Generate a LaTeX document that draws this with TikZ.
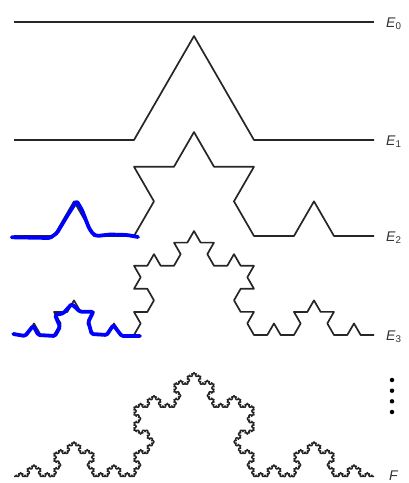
\documentclass[tikz,border=0pt]{standalone}
\usepackage{fontspec}
\setmainfont{Liberation Sans}
\usetikzlibrary{decorations.fractals}

\tikzset{
  curve/.style={draw=black!85, line width=1.7pt, line join=round, decoration=Koch snowflake},
  trace/.style={draw=blue, line width=3.8pt, line cap=round, line join=round, rounded corners=1.5pt},
  stage/.style={anchor=west, text=black!80, inner sep=0pt, font=\fontsize{14}{14}\selectfont\itshape},
  vdot/.style={circle, fill=black, inner sep=0pt, minimum size=4.5pt}
}

\begin{document}
\begin{tikzpicture}[x=1pt,y=1pt]
        \useasboundingbox (0,0) rectangle (409,483);

        % end points of the stages
        \coordinate (E0a) at (14,461);  \coordinate (E0b) at (374,461);
        \coordinate (E1a) at (14,343);  \coordinate (E1b) at (374,343);
        \coordinate (E2a) at (14,247);  \coordinate (E2b) at (374,247);
        \coordinate (E3a) at (14,148);  \coordinate (E3b) at (374,148);
        \coordinate (Fa) at (14,6.5);   \coordinate (Fb) at (374,6.5);

        % Stages E0 ... E3 and F
        \draw[curve, line width=2pt] (E0a) -- (E0b);
        \draw[curve] decorate{ (E1a) -- (E1b) };
        \draw[curve] decorate{ decorate{ (E2a) -- (E2b) } };
        \draw[curve] decorate{ decorate{ decorate{ (E3a) -- (E3b) } } };
        \draw[curve, line width=1.5pt] decorate{ decorate{ decorate{ decorate{ decorate{ (Fa) -- (Fb) } } } } };

        % Labels
        \node[stage] (labE0) at (386,459) {E\textsubscript{\upshape 0}};
        \node[stage] (labE1) at (386,341) {E\textsubscript{\upshape 1}};
        \node[stage] (labE2) at (386,245) {E\textsubscript{\upshape 2}};
        \node[stage] (labE3) at (386,146) {E\textsubscript{\upshape 3}};
        \node[stage] (labF) at (389,7) {F};

        % Dots
        \foreach \y/\n in {103/1,92.3/2,81.7/3,71/4}
            \node[vdot] (dot\n) at (392,\y) {};

        % Blue traces over the left thirds
        \draw[trace] (11.7,245.7) -- (50,245) -- (57,250) -- (66.7,266.3) -- (76.7,282)
            -- (82,273) -- (89,255) -- (93,249) -- (97,247) -- (110,248.5) -- (127,248) -- (138,246);
        \draw[trace] (13.3,149) -- (25,147) -- (33.3,157.3) -- (38.3,148) -- (55,147) -- (60,156.3)
            -- (55,168) -- (63.3,169.7) -- (71.7,179) -- (80,171.3) -- (93.3,171.3) -- (88.3,161.3)
            -- (91.7,149) -- (106.7,148) -- (113.3,158) -- (121.7,147) -- (140,147);
    \end{tikzpicture}
\end{document}
